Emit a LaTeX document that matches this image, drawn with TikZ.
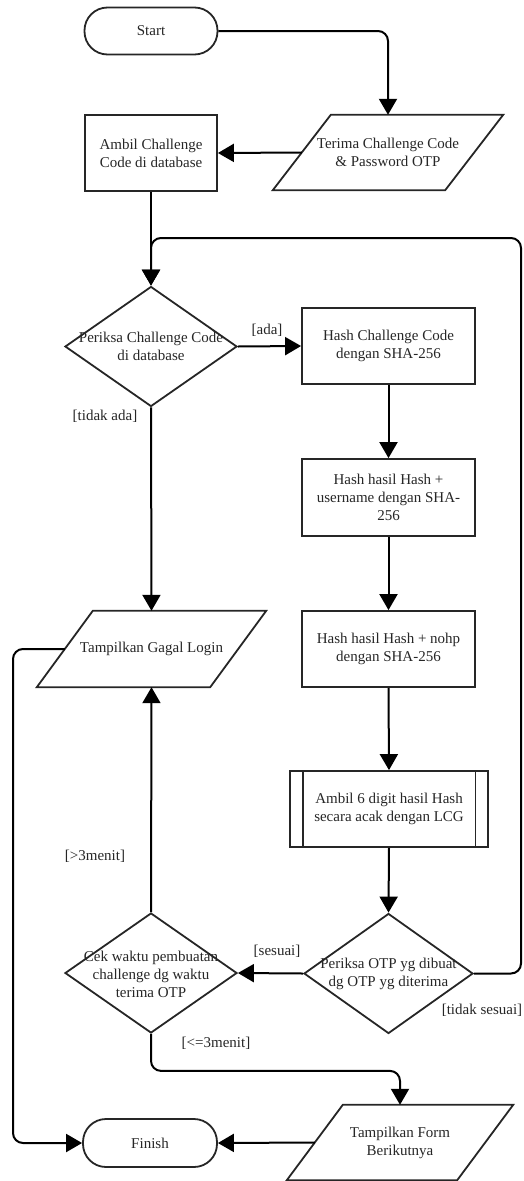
\documentclass[tikz,border=0pt]{standalone}
\usepackage{fontspec}
\setmainfont{Liberation Serif}
\usetikzlibrary{shapes.geometric,arrows.meta}
\tikzset{
  txt/.style={font=\fontsize{15}{18}\selectfont, text=black!85, align=center, inner sep=0pt},
  base/.style={txt, draw=black!85, line width=1.8pt},
  proc/.style={base, rectangle, minimum width=173pt, minimum height=76pt},
  term/.style={base, rectangle, rounded corners=23pt, minimum width=133pt, minimum height=47pt},
  io/.style={txt, rectangle, minimum width=172pt, minimum height=75pt},
  dec/.style={draw=black!85, line width=1.8pt, diamond, inner sep=0pt, minimum width=172pt, minimum height=120pt},
  outline/.style={draw=black!85, line width=1.8pt},
  conn/.style={line width=2pt, draw=black, -{Triangle[width=18pt,length=16pt]}, rounded corners=10pt},
  lbl/.style={txt}
}
\begin{document}
\begin{tikzpicture}[x=1pt,y=-1pt]
\useasboundingbox (0,0) rectangle (524,1181);
% nodes
\node[term] (start) at (151,31) {Start};
\node[io] (terima) at (388,152.5) {Terima Challenge Code\\\& Password OTP};
\node[proc, minimum width=132pt] (ambil) at (151,153) {Ambil Challenge\\Code di database};
\node[dec] (pcc) at (151,346.5) {};
\node[txt] (pcct) at (151,346) {Periksa Challenge Code\\di database};
\node[proc] (h1) at (388.5,346) {Hash Challenge Code\\dengan SHA-256};
\node[proc, minimum height=77pt] (h2) at (388.5,497.5) {Hash hasil Hash +\\username dengan SHA-\\256};
\node[proc] (h3) at (388.5,649) {Hash hasil Hash + nohp\\dengan SHA-256};
\node[proc, minimum width=198pt] (lcg) at (389,809) {Ambil 6 digit hasil Hash\\secara acak dengan LCG};
\node[dec, minimum width=169pt] (otp) at (388.5,973.5) {};
\node[txt] (otpt) at (388.5,974) {Periksa OTP yg dibuat\\dg OTP yg diterima};
\node[io, minimum width=173pt, minimum height=76pt] (gagal) at (151.5,649) {Tampilkan Gagal Login};
\node[dec] (cek) at (151,973) {};
\node[txt] (cekt) at (151,974) {Cek waktu pembuatan\\challenge dg waktu\\terima OTP};
\node[io, minimum width=170pt] (form) at (400,1142.5) {Tampilkan Form\\Berikutnya};
\node[term, minimum width=134pt, minimum height=48pt] (finish) at (150,1143) {Finish};
% parallelogram outlines
\draw[outline] ([xshift=29pt]terima.north west) -- ([xshift=29pt]terima.north east) -- ([xshift=-29pt]terima.south east) -- ([xshift=-29pt]terima.south west) -- cycle;
\draw[outline] ([xshift=28pt]gagal.north west) -- ([xshift=28pt]gagal.north east) -- ([xshift=-28pt]gagal.south east) -- ([xshift=-28pt]gagal.south west) -- cycle;
\draw[outline] ([xshift=28pt]form.north west) -- ([xshift=28pt]form.north east) -- ([xshift=-28pt]form.south east) -- ([xshift=-28pt]form.south west) -- cycle;
% predefined process bars
\draw[outline] ([xshift=13.5pt]lcg.north west) -- ([xshift=13.5pt]lcg.south west);
\draw[outline] ([xshift=-13.5pt]lcg.north east) -- ([xshift=-13.5pt]lcg.south east);
% labels
\node[lbl] (lada) at (267,330) {[ada]};
\node[lbl] (ltidak) at (105,416) {[tidak ada]};
\node[lbl] (lgt) at (95,856) {[>3menit]};
\node[lbl] (lsesuai) at (277,951) {[sesuai]};
\node[lbl] (ltsesuai) at (482,1010) {[tidak sesuai]};
\node[lbl] (lle) at (216,1043) {[<=3menit]};
% helper coordinates
\coordinate (loopR) at (521,238);
\coordinate (leftX) at (13,649);
% connectors
\draw[conn] (start.east) -| (terima.north);
\draw[conn] (terima.west) -- (ambil.east);
\draw[conn] (ambil.south) -- (pcc.north);
\draw[conn] (otp.east) -| (loopR) -| (pcc.north);
\draw[conn] (pcc.east) -- (h1.west);
\draw[conn] (pcc.south) -- (gagal.north);
\draw[conn] (h1.south) -- (h2.north);
\draw[conn] (h2.south) -- (h3.north);
\draw[conn] (h3.south) -- (lcg.north);
\draw[conn] (lcg.south) -- (otp.north);
\draw[conn] (otp.west) -- (cek.east);
\draw[conn] (cek.north) -- (gagal.south);
\draw[conn] (cek.south) -- ++(0,37) -| (form.north);
\draw[conn] (form.west) -- (finish.east);
\draw[conn] (gagal.west) -- (leftX) |- (finish.west);
\end{tikzpicture}
\end{document}
